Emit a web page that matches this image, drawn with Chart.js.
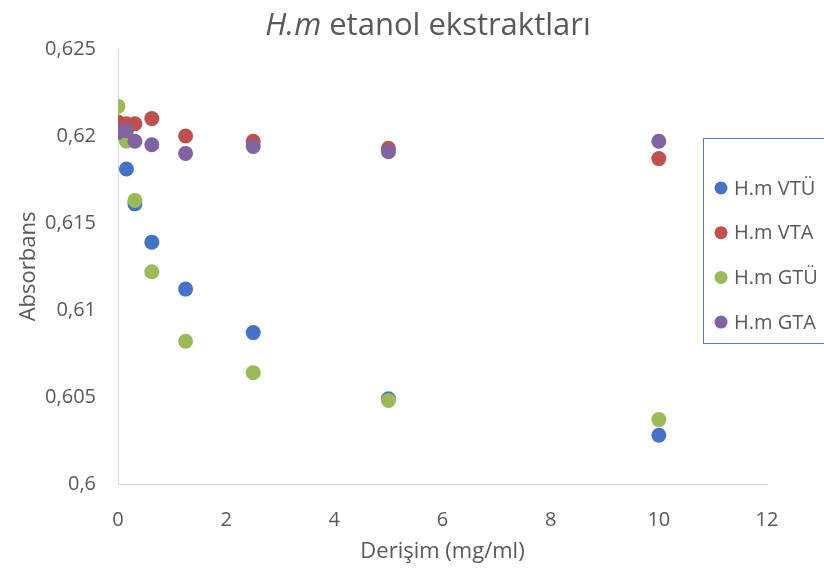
<!DOCTYPE html>
<html>
<head>
<meta charset="utf-8">
<script src="https://cdn.jsdelivr.net/npm/chart.js@4.4.1/dist/chart.umd.min.js"></script>
<style>
html,body{margin:0;padding:0;background:#fff;}
#wrap{width:824px;height:569px;position:relative;}
</style>
</head>
<body>
<div id="wrap"><canvas id="chart" width="824" height="569"></canvas></div>
<script>
const concentrations = [0, 0.156, 0.3125, 0.625, 1.25, 2.5, 5, 10];

const seriesNames = ["H.m VTÜ", "H.m VTA", "H.m GTÜ", "H.m GTA"];
const seriesColors = ["#4472C4", "#C0504D", "#9BBB59", "#8064A2"];

const vtu = [0.6203, 0.6181, 0.6161, 0.6139, 0.6112, 0.6087, 0.6049, 0.6028];
const vta = [0.6208, 0.6207, 0.6207, 0.6210, 0.6200, 0.6197, 0.6193, 0.6187];
const gtu = [0.6217, 0.6197, 0.6163, 0.6122, 0.6082, 0.6064, 0.6048, 0.6037];
const gta = [0.6202, 0.6203, 0.6197, 0.6195, 0.6190, 0.6194, 0.6191, 0.6197];

const allSeries = [vtu, vta, gtu, gta];

const textColor = "#595959";
const fontFamily = "'Open Sans', sans-serif";

function toPoints(values){
  return concentrations.map((c,i)=>({x:c, y:values[i]}));
}

const datasets = allSeries.map((vals,i)=>({
  label: seriesNames[i],
  data: toPoints(vals),
  backgroundColor: seriesColors[i],
  borderColor: seriesColors[i],
  borderWidth: 0,
  pointRadius: 7.5,
  order: allSeries.length - i
}));

// title with italic "H.m"
const titlePlugin = {
  id: "mixedTitle",
  afterDraw(chart){
    const ctx = chart.ctx;
    ctx.save();
    ctx.fillStyle = textColor;
    ctx.textBaseline = "alphabetic";
    const italic = "italic 31px " + fontFamily;
    const normal = "31px " + fontFamily;
    const a = "H.m", b = " etanol ekstraktları";
    ctx.font = italic;
    const wa = ctx.measureText(a).width;
    ctx.font = normal;
    const wb = ctx.measureText(b).width;
    const cx = 428;
    let x = cx - (wa + wb) / 2;
    const y = 35;
    ctx.font = italic;
    ctx.fillText(a, x, y);
    ctx.font = normal;
    ctx.fillText(b, x + wa, y);
    ctx.restore();
  }
};

// legend box drawn over the plot area
const legendPlugin = {
  id: "boxLegend",
  afterDraw(chart){
    const ctx = chart.ctx;
    ctx.save();
    const bx = 703.5, by = 138.5, bw = 130, bh = 205;
    ctx.fillStyle = "#fff";
    ctx.fillRect(bx, by, bw, bh);
    ctx.strokeStyle = "#4F81BD";
    ctx.lineWidth = 1;
    ctx.strokeRect(bx, by, bw, bh);
    ctx.font = "20px " + fontFamily;
    ctx.textBaseline = "middle";
    chart.data.datasets.forEach((ds,i)=>{
      const y = 188 + i * 44.7;
      ctx.fillStyle = ds.backgroundColor;
      ctx.beginPath();
      ctx.arc(721, y, 6.5, 0, Math.PI * 2);
      ctx.fill();
      ctx.fillStyle = textColor;
      ctx.fillText(ds.label, 734, y + 1);
    });
    ctx.restore();
  }
};

new Chart(document.getElementById("chart"), {
  type: "scatter",
  data: { datasets },
  options: {
    responsive: false,
    animation: false,
    layout: { padding: { top: 49, right: 57, left: 0, bottom: 0 } },
    plugins: {
      legend: { display: false },
      title: { display: false },
      tooltip: { enabled: false }
    },
    scales: {
      x: {
        type: "linear",
        min: 0,
        max: 12,
        ticks: {
          stepSize: 2,
          color: textColor,
          font: { family: fontFamily, size: 20 },
          padding: 24
        },
        grid: { drawOnChartArea: false, drawTicks: false },
        border: { display: true, color: "#D9D9D9", width: 1 },
        title: {
          display: true,
          text: "Derişim (mg/ml)",
          color: textColor,
          font: { family: fontFamily, size: 22 },
          padding: { top: 0, bottom: 4 }
        },
        afterFit(s){ s.height = 85; }
      },
      y: {
        min: 0.6,
        max: 0.625,
        ticks: {
          stepSize: 0.005,
          color: textColor,
          font: { family: fontFamily, size: 20 },
          padding: 22,
          callback: v => (Math.round(v * 1000) / 1000).toString().replace(".", ",")
        },
        grid: { drawOnChartArea: false, drawTicks: false },
        border: { display: true, color: "#D9D9D9", width: 1 },
        title: {
          display: true,
          text: "Absorbans",
          color: textColor,
          font: { family: fontFamily, size: 22 },
          padding: { top: 16, bottom: 0 }
        },
        afterFit(s){ s.width = 118; }
      }
    }
  },
  plugins: [titlePlugin, legendPlugin]
});
</script>
</body>
</html>
